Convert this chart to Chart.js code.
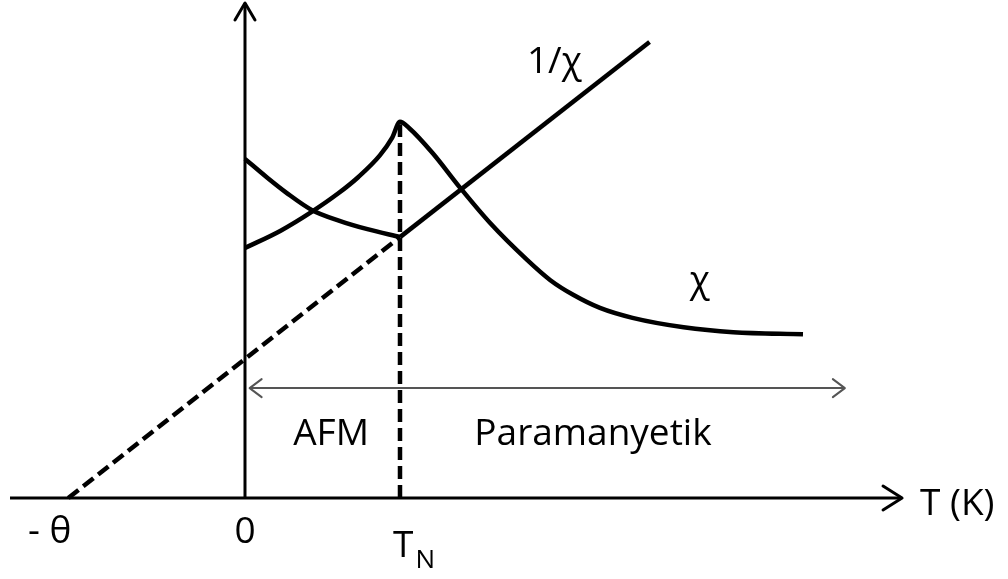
<!DOCTYPE html>
<html>
<head>
<meta charset="utf-8">
<script src="https://cdn.jsdelivr.net/npm/chart.js@4"></script>
<style>
  html, body { margin: 0; padding: 0; background: #fff; }
  canvas { display: block; }
</style>
</head>
<body>
<canvas id="susceptibility-chart" width="1008" height="579"></canvas>

<script>
    // Temperature in K (T_N = 100 K), susceptibility in arbitrary units
    const TN = 100;
    const THETA = 114;

    // 1/chi below T_N (AFM region)
    const T_AFM = [0, 14, 27, 43, 61, 79, 100];
    const INV_CHI_AFM = [68.5, 64.8, 61.6, 58.2, 56.0, 54.3, 52.7];

    // chi over the whole range, peak at T_N
    const T_CHI = [0, 23, 43, 60, 73, 87, 95, 100, 106, 121, 139, 158, 182, 197, 212, 229, 250, 283, 315, 360];
    const CHI = [50.5, 54.0, 57.8, 61.5, 64.8, 69.2, 72.8, 76.0, 74.7, 69.7, 62.6, 55.6, 48.1, 44.0, 41.0, 38.4, 36.4, 34.5, 33.5, 33.1];

    // Curie-Weiss line: extrapolated to -theta, then measured above T_N
    const T_CW = [-THETA, TN, 261];
    const INV_CHI_CW = [0, 52.7, 92.1];

    // axes and region arrow
    const X_AXIS = [-151.6, 423.9];
    const Y_AXIS_TOP = 100;
    const REGION_ARROW = [3, 387];
    const REGION_Y = 22.2;

    const pts = (xs, ys) => xs.map((x, i) => ({x: x, y: ys[i]}));

    const arrowPlugin = {
        id: 'arrows',
        afterDatasetsDraw(chart) {
            const {ctx, scales: {x, y}} = chart;
            const chevron = (tx, ty, dx, dy, nx, ny, width, color) => {
                ctx.save();
                ctx.strokeStyle = color;
                ctx.lineWidth = width;
                ctx.lineCap = 'round';
                ctx.lineJoin = 'round';
                ctx.beginPath();
                ctx.moveTo(tx - dx + nx, ty - dy + ny);
                ctx.lineTo(tx, ty);
                ctx.lineTo(tx - dx - nx, ty - dy - ny);
                ctx.stroke();
                ctx.restore();
            };
            // x axis arrow
            chevron(x.getPixelForValue(X_AXIS[1]), y.getPixelForValue(0), 19, 0, 0, 12, 3, '#000');
            // y axis arrow
            chevron(x.getPixelForValue(0), y.getPixelForValue(Y_AXIS_TOP), 0, -17, 10, 0, 3, '#000');
            // AFM / paramagnetic range arrow
            const ry = y.getPixelForValue(REGION_Y);
            chevron(x.getPixelForValue(REGION_ARROW[0]), ry, -12, 0, 0, 9, 2, '#555');
            chevron(x.getPixelForValue(REGION_ARROW[1]), ry, 12, 0, 0, 9, 2, '#555');
        }
    };

    const labelPlugin = {
        id: 'labels',
        afterDraw(chart) {
            const {ctx, scales: {x, y}} = chart;
            const font = '37px "Open Sans"';
            const put = (text, tx, ty, align, f) => {
                ctx.font = f || font;
                ctx.textAlign = align;
                ctx.textBaseline = 'alphabetic';
                ctx.fillText(text, x.getPixelForValue(tx), y.getPixelForValue(ty));
            };
            ctx.save();
            ctx.fillStyle = '#000';
            put('AFM', 55.5, 10.7, 'center');
            put('Paramanyetik', 224.5, 10.7, 'center');
            put('0', 0, -9.1, 'center');
            put('- θ', -112, -9.1, 'right');
            put('T (K)', 435.5, -3.4, 'left');
            put('1/χ', 181.9, 85.9, 'left');
            put('χ', 287, 41.6, 'left');
            // T_N with subscript
            put('T', 102, -11.9, 'center');
            put('N', 110, -14.1, 'left', '26px "Open Sans"');
            ctx.restore();
        }
    };

    const ctx = document.getElementById('susceptibility-chart').getContext('2d');
    new Chart(ctx, {
        type: 'scatter',
        data: {
            datasets: [
                {
                    label: 'x axis',
                    data: pts(X_AXIS, [0, 0]),
                    borderColor: '#000',
                    borderWidth: 3
                },
                {
                    label: 'y axis',
                    data: pts([0, 0], [0, Y_AXIS_TOP]),
                    borderColor: '#000',
                    borderWidth: 3
                },
                {
                    label: 'range',
                    data: pts(REGION_ARROW, [REGION_Y, REGION_Y]),
                    borderColor: '#555',
                    borderWidth: 2
                },
                {
                    label: 'T_N',
                    data: pts([TN, TN], [0, 75.5]),
                    borderColor: '#000',
                    borderWidth: 4.5,
                    borderDash: [13, 6]
                },
                {
                    label: '1/chi (Curie-Weiss)',
                    data: pts(T_CW, INV_CHI_CW),
                    borderColor: '#000',
                    borderWidth: 4.5,
                    segment: {
                        borderDash: c => c.p1DataIndex === 1 ? [13, 6] : undefined
                    }
                },
                {
                    label: '1/chi AFM',
                    data: pts(T_AFM, INV_CHI_AFM),
                    borderColor: '#000',
                    borderWidth: 4.5,
                    cubicInterpolationMode: 'monotone'
                },
                {
                    label: 'chi',
                    data: pts(T_CHI, CHI),
                    borderColor: '#000',
                    borderWidth: 4.5,
                    cubicInterpolationMode: 'monotone'
                }
            ].map(d => Object.assign({showLine: true, pointRadius: 0, fill: false}, d))
        },
        options: {
            responsive: false,
            animation: false,
            layout: {padding: 0},
            plugins: {
                legend: {display: false},
                tooltip: {enabled: false}
            },
            scales: {
                x: {type: 'linear', min: -158.06, max: 492.26, display: false},
                y: {type: 'linear', min: -16.36, max: 100.6, display: false}
            }
        },
        plugins: [arrowPlugin, labelPlugin]
    });
</script>
</body>
</html>
